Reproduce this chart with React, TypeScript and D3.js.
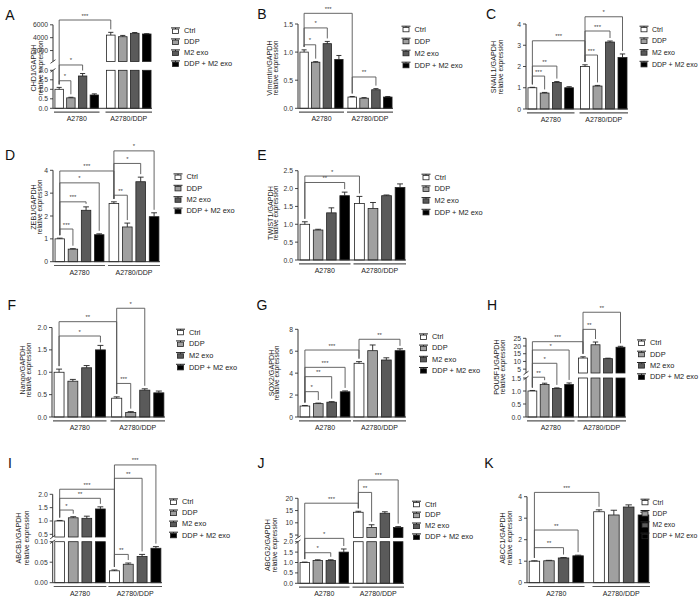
import React from 'react';
import * as d3 from 'd3';

type Seg = 'lo' | 'hi';
interface Sig { from: number; to: number; at: number; seg: Seg; text: string }

const groupLabels = ['A2780', 'A2780/DDP'];
const seriesLabels = ['Ctrl', 'DDP', 'M2 exo', 'DDP + M2 exo'];
const seriesFills = ['#ffffff', '#a0a0a0', '#5a5a5a', '#000000'];

const sig = (from: number, to: number, at: number, text: string, seg: Seg = 'lo'): Sig => ({ from, to, at, seg, text });

// A: CHD1
const chd1Mean = [1.0, 0.55, 1.7, 0.7, 4400, 4150, 4680, 4570];
const chd1Err = [0.1, 0.03, 0.13, 0.06, 430, 200, 120, 50];
const chd1Sig = [sig(0, 4, 6745, '***', 'hi'), sig(0, 2, 2.28, '*'), sig(0, 1, 1.45, '*')];
const chd1LoTicks = [0, 0.5, 1, 1.5, 2];
const chd1HiTicks = [2000, 4000, 6000];

// B: Vimentin
const vimMean = [1.0, 0.82, 1.15, 0.87, 0.2, 0.18, 0.33, 0.2];
const vimErr = [0.04, 0.01, 0.04, 0.07, 0.01, 0.01, 0.02, 0.01];
const vimSig = [sig(0, 4, 1.69, '***'), sig(0, 2, 1.43, '*'), sig(0, 1, 1.13, '*'), sig(4, 6, 0.557, '**')];
const vimTicks = [0, 0.5, 1, 1.5];

// C: SNAIL1
const snailMean = [1.0, 0.75, 1.25, 1.0, 2.0, 1.08, 3.15, 2.42];
const snailErr = [0.02, 0.03, 0.04, 0.05, 0.08, 0.03, 0.05, 0.17];
const snailSig = [sig(4, 7, 4.34, '*'), sig(4, 6, 3.67, '***'), sig(0, 4, 3.21, '***'), sig(4, 5, 2.54, '***'), sig(0, 2, 2.02, '**'), sig(0, 1, 1.55, '***')];
const snailTicks = [0, 1, 2, 3, 4];

// D: ZEB1
const zebMean = [1.0, 0.55, 2.25, 1.18, 2.55, 1.52, 3.5, 1.97];
const zebErr = [0.03, 0.02, 0.15, 0.04, 0.07, 0.17, 0.2, 0.17];
const zebSig = [sig(4, 7, 4.85, '*'), sig(4, 6, 4.3, '*'), sig(0, 4, 3.97, '***'), sig(0, 3, 3.45, '*'), sig(4, 5, 2.91, '**'), sig(0, 2, 2.62, '***'), sig(0, 1, 1.43, '***')];
const zebTicks = [0, 1, 2, 3, 4];

// E: TWIST1
const twistMean = [1.0, 0.84, 1.32, 1.8, 1.58, 1.44, 1.8, 2.03];
const twistErr = [0.07, 0.02, 0.14, 0.1, 0.2, 0.17, 0.02, 0.1];
const twistSig = [sig(0, 4, 2.35, '*'), sig(0, 3, 2.17, '**')];
const twistTicks = [0, 0.5, 1, 1.5, 2, 2.5];

// F: Nango
const nanogMean = [1.0, 0.8, 1.1, 1.5, 0.42, 0.1, 0.6, 0.54];
const nanogErr = [0.07, 0.04, 0.05, 0.1, 0.03, 0.02, 0.03, 0.04];
const nanogSig = [sig(4, 6, 2.43, '*'), sig(0, 4, 2.13, '**'), sig(0, 3, 1.81, '*'), sig(4, 5, 0.75, '***')];
const nanogTicks = [0, 0.5, 1, 1.5, 2];

// G: SOX2
const sox2Mean = [1.0, 1.22, 1.35, 2.3, 4.9, 6.05, 5.2, 6.05];
const sox2Err = [0.05, 0.05, 0.05, 0.08, 0.15, 0.52, 0.2, 0.17];
const sox2Sig = [sig(4, 7, 7.09, '**'), sig(0, 4, 6.11, '***'), sig(0, 3, 4.53, '***'), sig(0, 2, 3.68, '**'), sig(0, 1, 2.31, '*')];
const sox2Ticks = [0, 2, 4, 6, 8];

// H: POU5F1
const pouMean = [1.0, 1.25, 1.1, 1.25, 12.2, 20.8, 11.8, 19.2];
const pouErr = [0.02, 0.05, 0.02, 0.06, 0.8, 1.8, 0.3, 0.6];
const pouSig = [sig(4, 7, 41.9, '**', 'hi'), sig(4, 5, 30.8, '**', 'hi'), sig(0, 4, 22.8, '***', 'hi'), sig(0, 3, 17.4, '*', 'hi'), sig(0, 2, 8.8, '*', 'hi'), sig(0, 1, 1.53, '**')];
const pouLoTicks = [0, 0.5, 1, 1.5];
const pouHiTicks = [5, 10, 15, 20, 25];

// I: ABCB1
const abcb1Mean = [1.0, 1.12, 1.1, 1.45, 0.029, 0.045, 0.064, 0.084];
const abcb1Err = [0.02, 0.04, 0.08, 0.08, 0.002, 0.003, 0.005, 0.004];
const abcb1Sig = [sig(4, 7, 3.1, '***', 'hi'), sig(4, 6, 2.6, '**', 'hi'), sig(0, 4, 2.19, '***', 'hi'), sig(0, 3, 1.85, '**', 'hi'), sig(0, 1, 1.41, '*', 'hi'), sig(4, 5, 0.069, '**')];
const abcb1LoTicks = [0, 0.05, 0.1];
const abcb1HiTicks = [0.5, 1, 1.5, 2];

// J: ABCG2
const abcg2Mean = [1.0, 1.1, 1.1, 1.5, 14.3, 8.1, 13.9, 8.1];
const abcg2Err = [0.02, 0.03, 0.03, 0.15, 0.4, 1.1, 0.6, 0.35];
const abcg2Sig = [sig(4, 7, 27.5, '***', 'hi'), sig(4, 5, 22.4, '**', 'hi'), sig(0, 4, 18, '***', 'hi'), sig(0, 3, 2.16, '*'), sig(0, 2, 1.47, '*')];
const abcg2LoTicks = [0, 0.5, 1, 1.5, 2];
const abcg2HiTicks = [5, 10, 15, 20];

// K: ABCC1
const abcc1Mean = [1.0, 1.02, 1.15, 1.25, 3.3, 3.15, 3.52, 3.15];
const abcc1Err = [0.02, 0.02, 0.02, 0.03, 0.09, 0.22, 0.1, 0.13];
const abcc1Sig = [sig(0, 4, 4.2, '***'), sig(0, 3, 2.45, '**'), sig(0, 2, 1.63, '**')];
const abcc1Ticks = [0, 1, 2, 3, 4];

interface AxisPart { domain: [number, number]; range: [number, number]; ticks: number[]; fmt: string }
interface PanelCfg {
  letter: string; letterPos: [number, number];
  title: string; titleX: [number, number]; titleY: number;
  mean: number[]; err: number[]; sigs: Sig[];
  lo: AxisPart; hi?: AxisPart;
  x0: number; x1: number; gap: number;
  legend: [number, number, number]; legendFont?: number; legendGap?: number;
}

const panels: PanelCfg[] = [
  { letter: 'A', letterPos: [10, 20], title: 'CHD1/GAPDH', titleX: [33, 40], titleY: 68, mean: chd1Mean, err: chd1Err, sigs: chd1Sig,
    lo: { domain: [0, 2], range: [108.3, 70.3], ticks: chd1LoTicks, fmt: '.1f' },
    hi: { domain: [300, 6000], range: [61.5, 24.8], ticks: chd1HiTicks, fmt: 'd' },
    x0: 53, x1: 152, gap: 6, legend: [171, 30.7, 11] },
  { letter: 'B', letterPos: [262, 18.5], title: 'Vimentin/GAPDH', titleX: [269, 275], titleY: 68, mean: vimMean, err: vimErr, sigs: vimSig,
    lo: { domain: [0, 1.5], range: [108.3, 24], ticks: vimTicks, fmt: '.1f' },
    x0: 298, x1: 393, gap: 3, legend: [401.5, 29, 12] },
  { letter: 'C', letterPos: [491, 18.5], title: 'SNAIL1/GAPDH', titleX: [493, 500], titleY: 67, mean: snailMean, err: snailErr, sigs: snailSig,
    lo: { domain: [0, 4], range: [109, 24], ticks: snailTicks, fmt: 'd' },
    x0: 526, x1: 628, gap: 5, legend: [639.5, 29, 11.7], legendFont: 7, legendGap: 12.5 },
  { letter: 'D', letterPos: [10, 160], title: 'ZEB1/GAPDH', titleX: [33, 39], titleY: 207, mean: zebMean, err: zebErr, sigs: zebSig,
    lo: { domain: [0, 4], range: [261.7, 170.3], ticks: zebTicks, fmt: 'd' },
    x0: 53, x1: 160, gap: 3, legend: [173.5, 176.7, 11.4] },
  { letter: 'E', letterPos: [262, 160], title: 'TWIST1/GAPDH', titleX: [270, 275], titleY: 213, mean: twistMean, err: twistErr, sigs: twistSig,
    lo: { domain: [0, 2.5], range: [260, 170.7], ticks: twistTicks, fmt: '.1f' },
    x0: 298, x1: 406, gap: 3, legend: [421.5, 177, 11.7] },
  { letter: 'F', letterPos: [11.7, 310], title: 'Nango/GAPDH', titleX: [22, 28], titleY: 370, mean: nanogMean, err: nanogErr, sigs: nanogSig,
    lo: { domain: [0, 2], range: [417, 327.5], ticks: nanogTicks, fmt: '.1f' },
    x0: 52, x1: 165, gap: 4, legend: [176, 332, 11.7] },
  { letter: 'G', letterPos: [262, 310], title: 'SOX2/GAPDH', titleX: [271.7, 276.7], titleY: 373, mean: sox2Mean, err: sox2Err, sigs: sox2Sig,
    lo: { domain: [0, 8], range: [417, 329.3], ticks: sox2Ticks, fmt: 'd' },
    x0: 298, x1: 406, gap: 2, legend: [419, 336.7, 11.2] },
  { letter: 'H', letterPos: [492, 310], title: 'POU5F1/GAPDH', titleX: [496.7, 502.7], titleY: 367, mean: pouMean, err: pouErr, sigs: pouSig,
    lo: { domain: [0, 1.5], range: [417, 378], ticks: pouLoTicks, fmt: '.1f' },
    hi: { domain: [2.5, 25], range: [373, 338.3], ticks: pouHiTicks, fmt: 'd' },
    x0: 526, x1: 626, gap: 3, legend: [637, 342.7, 11.3] },
  { letter: 'I', letterPos: [10, 468], title: 'ABCB1/GAPDH', titleX: [18, 26], titleY: 538, mean: abcb1Mean, err: abcb1Err, sigs: abcb1Sig,
    lo: { domain: [0, 0.1], range: [582.7, 541.7], ticks: abcb1LoTicks, fmt: '.2f' },
    hi: { domain: [0.4, 2.0], range: [537, 494.3], ticks: abcb1HiTicks, fmt: '.1f' },
    x0: 52.7, x1: 162, gap: 2, legend: [169, 501.7, 11.1] },
  { letter: 'J', letterPos: [261, 468], title: 'ABCG2/GAPDH', titleX: [267, 274.6], titleY: 545, mean: abcg2Mean, err: abcg2Err, sigs: abcg2Sig,
    lo: { domain: [0, 2], range: [583.3, 541.7], ticks: abcg2LoTicks, fmt: '.1f' },
    hi: { domain: [4, 20], range: [537.5, 498.3], ticks: abcg2HiTicks, fmt: 'd' },
    x0: 298, x1: 404, gap: 3, legend: [412, 504, 10.9] },
  { letter: 'K', letterPos: [489, 468], title: 'ABCC1/GAPDH', titleX: [502, 509], titleY: 538, mean: abcc1Mean, err: abcc1Err, sigs: abcc1Sig,
    lo: { domain: [0, 4], range: [582.7, 496.7], ticks: abcc1Ticks, fmt: 'd' },
    x0: 527, x1: 650, gap: 8, legend: [640.5, 502, 11.3], legendFont: 6.9, legendGap: 12 },
];

const FONT = 'Liberation Sans, Arial, Helvetica, sans-serif';
const AX = '#333';

function Panel({ c }: { c: PanelCfg }) {
  const lo = d3.scaleLinear().domain(c.lo.domain).range(c.lo.range);
  const hi = c.hi ? d3.scaleLinear().domain(c.hi.domain).range(c.hi.range) : null;
  const loMax = c.lo.domain[1];
  const yOf = (v: number, seg?: Seg) => {
    if (seg === 'hi' && hi) return hi(v);
    if (seg === 'lo') return lo(v);
    return hi && v > loMax ? hi(v) : lo(v);
  };
  const y0 = c.lo.range[0];
  const mid = (c.x0 + c.x1) / 2;
  const gRanges: [number, number][] = [[c.x0 + 1, mid - c.gap / 2], [mid + c.gap / 2, c.x1]];
  const bands = gRanges.map(r => d3.scaleBand<string>().domain(seriesLabels).range(r).paddingInner(0.28).paddingOuter(0.08));
  const bars = c.mean.map((v, i) => {
    const g = Math.floor(i / 4);
    const s = i % 4;
    const b = bands[g];
    const x = b(seriesLabels[s]) as number;
    const w = b.bandwidth();
    return { v, e: c.err[i], x, w, cx: x + w / 2, fill: seriesFills[s] };
  });
  const loTop = c.lo.range[1];
  const hiBot = hi ? c.hi!.range[0] : 0;
  const fmtLo = d3.format(c.lo.fmt);
  const fmtHi = c.hi ? d3.format(c.hi.fmt) : fmtLo;
  const lf = c.legendFont ?? 7.4;
  const lg = c.legendGap ?? 13;

  return (
    <g fontFamily={FONT}>
      <text x={c.letterPos[0]} y={c.letterPos[1]} fontSize={14} textAnchor="middle" fill="#111">{c.letter}</text>
      <text transform={`translate(${c.titleX[0]},${c.titleY}) rotate(-90)`} fontSize={7.2} textAnchor="middle" dominantBaseline="central" fill="#222">{c.title}</text>
      <text transform={`translate(${c.titleX[1]},${c.titleY}) rotate(-90)`} fontSize={6.6} textAnchor="middle" dominantBaseline="central" fill="#222">relative expression</text>
      {bars.map((b, i) => {
        const top = b.v + b.e;
        const broken = hi && b.v > loMax;
        const yTopPx = yOf(b.v);
        const yErr = yOf(top);
        return (
          <g key={i}>
            {broken ? (
              <>
                <rect x={b.x} y={loTop} width={b.w} height={y0 - loTop} fill={b.fill} stroke="#222" strokeWidth={0.8} />
                <rect x={b.x} y={yTopPx} width={b.w} height={hiBot - yTopPx} fill={b.fill} stroke="#222" strokeWidth={0.8} />
              </>
            ) : (
              <rect x={b.x} y={yTopPx} width={b.w} height={y0 - yTopPx} fill={b.fill} stroke="#222" strokeWidth={0.8} />
            )}
            <line x1={b.cx} x2={b.cx} y1={yTopPx} y2={yErr} stroke="#222" strokeWidth={0.9} />
            <line x1={b.cx - b.w * 0.3} x2={b.cx + b.w * 0.3} y1={yErr} y2={yErr} stroke="#222" strokeWidth={0.9} />
          </g>
        );
      })}
      <line x1={c.x0} x2={c.x0} y1={y0} y2={loTop} stroke={AX} strokeWidth={1} />
      {c.lo.ticks.map(t => (
        <g key={'l' + t}>
          <line x1={c.x0 - 3} x2={c.x0} y1={lo(t)} y2={lo(t)} stroke={AX} strokeWidth={0.9} />
          <text x={c.x0 - 5} y={lo(t)} fontSize={6.8} textAnchor="end" dominantBaseline="central" fill="#333">{fmtLo(t)}</text>
        </g>
      ))}
      {hi && (
        <g>
          <line x1={c.x0} x2={c.x0} y1={hiBot} y2={c.hi!.range[1]} stroke={AX} strokeWidth={1} />
          {c.hi!.ticks.map(t => (
            <g key={'h' + t}>
              <line x1={c.x0 - 3} x2={c.x0} y1={hi(t)} y2={hi(t)} stroke={AX} strokeWidth={0.9} />
              <text x={c.x0 - 5} y={hi(t)} fontSize={6.8} textAnchor="end" dominantBaseline="central" fill="#333">{fmtHi(t)}</text>
            </g>
          ))}
          <line x1={c.x0 - 2.5} x2={c.x0 + 2.5} y1={loTop + 1.8} y2={loTop - 1.8} stroke={AX} strokeWidth={0.9} />
          <line x1={c.x0 - 2.5} x2={c.x0 + 2.5} y1={hiBot + 1.8} y2={hiBot - 1.8} stroke={AX} strokeWidth={0.9} />
        </g>
      )}
      <line x1={c.x0} x2={c.x1} y1={y0} y2={y0} stroke={AX} strokeWidth={1} />
      {gRanges.map((r, g) => (
        <g key={'g' + g}>
          <line x1={r[0]} x2={r[1]} y1={y0 + 3.8} y2={y0 + 3.8} stroke="#555" strokeWidth={1.2} />
          <text x={(r[0] + r[1]) / 2} y={y0 + 13} fontSize={7} textAnchor="middle" fill="#222">{groupLabels[g]}</text>
        </g>
      ))}
      {c.sigs.map((s, k) => {
        const ly = yOf(s.at, s.seg);
        const a = bars[s.from];
        const b = bars[s.to];
        const leg = (bb: typeof a) => {
          let yb = yOf(bb.v + bb.e) - 3;
          if (yb < ly + 2) yb = ly + 2;
          return yb;
        };
        return (
          <g key={'s' + k}>
            <path d={`M${a.cx},${leg(a)}V${ly}H${b.cx}V${leg(b)}`} fill="none" stroke="#555" strokeWidth={0.9} />
            <text x={(a.cx + b.cx) / 2} y={ly - 2.5} fontSize={6} textAnchor="middle" fill="#444">{s.text}</text>
          </g>
        );
      })}
      {seriesLabels.map((lab, i) => {
        const sx = c.legend[0];
        const cy = c.legend[1] + i * c.legend[2];
        return (
          <g key={'lg' + i}>
            <line x1={sx} x2={sx + 9} y1={cy - 2.8} y2={cy - 2.8} stroke="#222" strokeWidth={1} />
            <line x1={sx + 4.5} x2={sx + 4.5} y1={cy - 2.8} y2={cy - 1.6} stroke="#222" strokeWidth={1} />
            <rect x={sx + 1.5} y={cy - 1.6} width={6} height={4.4} fill={seriesFills[i]} stroke="#222" strokeWidth={0.8} />
            <text x={sx + lg} y={cy} fontSize={lf} dominantBaseline="central" fill="#222">{lab}</text>
          </g>
        );
      })}
    </g>
  );
}

export default function App() {
  return (
    <svg width={700} height={597} style={{ position: 'absolute', left: 0, top: 0, background: '#fff' }}>
      <rect width={700} height={597} fill="#fff" />
      {panels.map(p => <Panel key={p.letter} c={p} />)}
    </svg>
  );
}
